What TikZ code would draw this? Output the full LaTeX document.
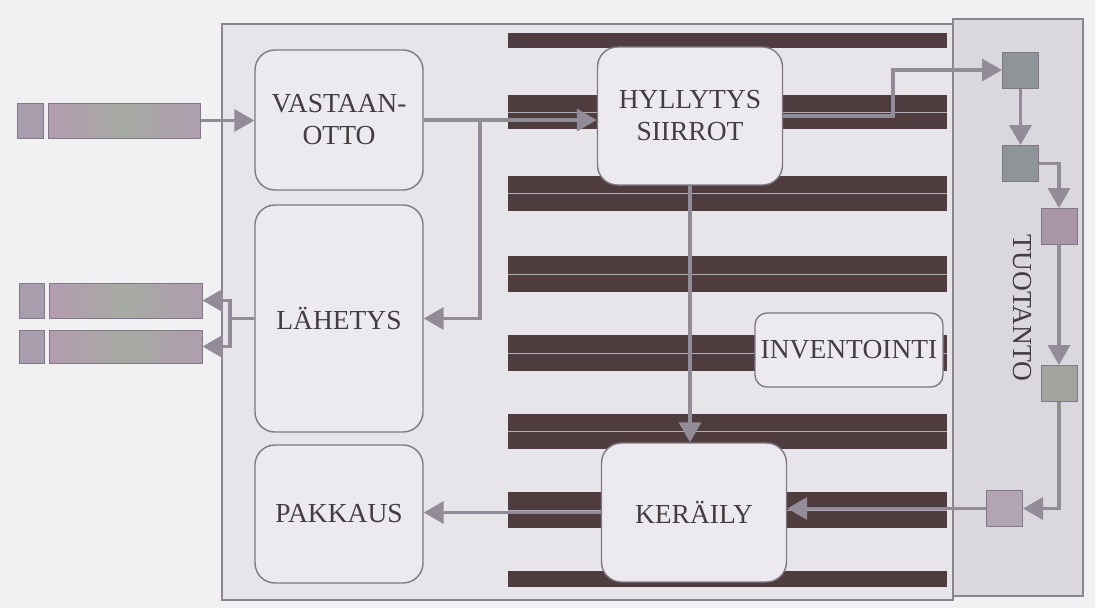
\documentclass[tikz,border=0pt]{standalone}
\usepackage{fontspec}
\setmainfont{Liberation Serif}
\usetikzlibrary{arrows.meta}
\definecolor{bg}{HTML}{F1F0F3}
\definecolor{framefill}{HTML}{E7E5EA}
\definecolor{frameline}{HTML}{8A858F}
\definecolor{panelfill}{HTML}{DAD7DD}
\definecolor{shelf}{HTML}{4E3C3E}
\definecolor{shelfline}{HTML}{B3ACB4}
\definecolor{boxfill}{HTML}{ECEAEF}
\definecolor{boxline}{HTML}{7E7984}
\definecolor{arrowc}{HTML}{918C97}
\definecolor{txt}{HTML}{433D41}
\definecolor{sqA}{HTML}{8F9499}
\definecolor{sqB}{HTML}{A896A8}
\definecolor{sqC}{HTML}{A2A39C}
\definecolor{sqD}{HTML}{B2A5B3}
\definecolor{barL}{HTML}{B39CB0}
\definecolor{barM}{HTML}{A7AAA3}
\definecolor{barR}{HTML}{AE9DAE}
\definecolor{sqIn}{HTML}{A79DAC}
\tikzset{
  proc/.style={draw=boxline, line width=1.4pt, fill=boxfill, rounded corners=20pt,
    align=center, text=txt, font=\fontsize{27.5}{32}\selectfont, inner sep=0pt},
  flow/.style={draw=arrowc, line width=3.5pt, -{Triangle[length=20pt,width=22pt]}},
  link/.style={draw=arrowc, line width=3.5pt},
  sq/.style={draw=boxline, line width=1pt, minimum width=36pt, minimum height=36pt, inner sep=0pt},
  bar/.style={draw=boxline, line width=1pt, inner sep=0pt, left color=barL, right color=barR, middle color=barM},
  insq/.style={draw=boxline, line width=1pt, fill=sqIn, inner sep=0pt},
}
\begin{document}
\begin{tikzpicture}[x=1pt, y=-1pt]
\useasboundingbox (0,0) rectangle (1095,608);
\fill[bg] (0,0) rectangle (1095,608);
% main frame and production panel
\draw[draw=frameline, fill=framefill, line width=1.2pt] (222,24) rectangle (953,600);
\draw[draw=frameline, fill=panelfill, line width=1.4pt] (953,19) rectangle (1083,596);
% shelves
\fill[shelf] (508,33) rectangle (947,48);
\fill[shelf] (508,571) rectangle (947,587);
\foreach \t/\b in {95/129,176/211,256/292,335/371,414/449,492/528} {
  \fill[shelf] (508,\t) rectangle (947,\b);
  \draw[shelfline, line width=0.9pt] (508,{(\t+\b)/2}) -- (947,{(\t+\b)/2});
}
% incoming / outgoing bars
\node[insq, minimum width=26pt, minimum height=35pt] (in0) at (30,120.5) {};
\node[bar, minimum width=152pt, minimum height=35pt] (in) at (124,120.5) {};
\node[insq, minimum width=25pt, minimum height=35pt] (o1s) at (31.5,300.5) {};
\node[bar, minimum width=153pt, minimum height=35pt] (o1) at (125.5,300.5) {};
\node[insq, minimum width=25pt, minimum height=33pt] (o2s) at (31.5,346.5) {};
\node[bar, minimum width=153pt, minimum height=33pt] (o2) at (125.5,346.5) {};
% process boxes
\node[proc, minimum width=168pt, minimum height=140pt] (va) at (339,120) {VASTAAN-\\OTTO};
\node[proc, minimum width=168pt, minimum height=227pt] (lh) at (339,318.5) {LÄHETYS};
\node[proc, minimum width=168pt, minimum height=138pt] (pk) at (339,514) {PAKKAUS};
\node[proc, minimum width=185pt, minimum height=138pt] (hy) at (690,116) {HYLLYTYS\\SIIRROT};
\node[proc, minimum width=185pt, minimum height=139pt] (ke) at (694,512.5) {KERÄILY};
\node[proc, rounded corners=12pt, minimum width=188pt, minimum height=74pt] (inv) at (849,350) {INVENTOINTI};
% production squares
\node[sq, fill=sqA] (s1) at (1020.5,70) {};
\node[sq, fill=sqA] (s2) at (1020.5,163.5) {};
\node[sq, fill=sqB] (s3) at (1059,226.5) {};
\node[sq, fill=sqC] (s4) at (1059,383.5) {};
\node[sq, fill=sqD] (s5) at (1004.5,508.5) {};
\node[rotate=-90, text=txt, font=\fontsize{27.5}{32}\selectfont] (tu) at (1022,308) {TUOTANTO};
% connectors
\coordinate (br) at (480,0);
\coordinate (fk) at (230,0);
\coordinate (up) at (893,0);
\draw[flow] (in.east) -- (in.east -| va.west);
\draw[flow] (va.east) -- (va.east -| hy.west);
\draw[flow] (va.east -| br) |- (lh.east);
\draw[link] (lh.west) -- (lh.west -| fk);
\draw[flow] (lh.west -| fk) |- (o1.east);
\draw[flow] (lh.west -| fk) |- (o2.east);
\draw[flow] (hy.south) -- (hy.south |- ke.north);
\draw[flow] (hy.east) -- (hy.east -| up) |- (s1.west);
\draw[flow] (s1.south) -- (s2.north);
\draw[flow] (s2.east) -| (s3.north);
\draw[flow] (s3.south) -- (s4.north);
\draw[flow] (s4.south) |- (s5.east);
\draw[flow] (s5.west) -- (s5.west -| ke.east);
\draw[flow] (ke.west) -- (ke.west -| pk.east);
\end{tikzpicture}
\end{document}
